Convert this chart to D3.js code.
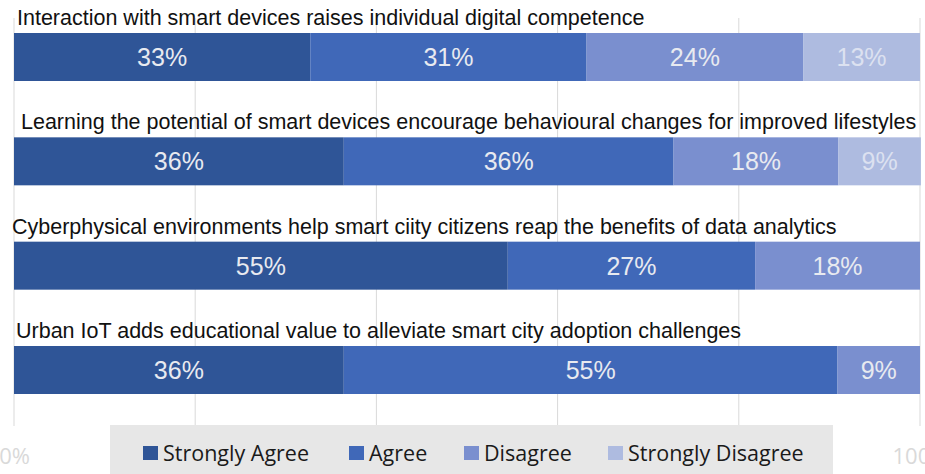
<!DOCTYPE html>
<html>
<head>
<meta charset="utf-8">
<script src="https://cdn.jsdelivr.net/npm/d3@7"></script>
<style>
  body { margin: 0; background: #fff; }
  svg { display: block; }
</style>
</head>
<body>
<div id="wrapper"></div>
<script>
const questions = [
    'Interaction with smart devices raises individual digital competence',
    'Learning the potential of smart devices encourage behavioural changes for improved lifestyles',
    'Cyberphysical environments help smart ciity citizens reap the benefits of data analytics',
    'Urban IoT adds educational value to alleviate smart city adoption challenges'
]
const responses = ['Strongly Agree', 'Agree', 'Disagree', 'Strongly Disagree']
const stronglyAgree = [32.7, 36.4, 54.5, 36.4]
const agree = [30.5, 36.4, 27.3, 54.5]
const disagree = [23.9, 18.2, 18.2, 9.1]
const stronglyDisagree = [12.9, 9.1, 0, 0]
const barLabels = [
    ['33%', '31%', '24%', '13%'],
    ['36%', '36%', '18%', '9%'],
    ['55%', '27%', '18%', ''],
    ['36%', '55%', '9%', '']
]
const gridTicks = [0, 20, 40, 60, 80, 100]
const labelTicks = [0, 100]

async function stackedBars() {
    let dimensions = {
        width: 925,
        height: 474,
        margin: { top: 33, right: 5, bottom: 80, left: 14 }
    }
    dimensions.boundedWidth = dimensions.width - dimensions.margin.left - dimensions.margin.right

    const colors = ['#2F5597', '#4068B8', '#7A8FCF', '#AEBBE0']
    const titleDx = [3, 7, -2, 2]

    const rows = questions.map((q, i) => ({
        question: q,
        values: [stronglyAgree[i], agree[i], disagree[i], stronglyDisagree[i]],
        labels: barLabels[i]
    }))

    const svg = d3.select('#wrapper').append('svg')
        .attr('width', dimensions.width)
        .attr('height', dimensions.height)

    const xScale = d3.scaleLinear()
        .domain([0, 100])
        .range([dimensions.margin.left, dimensions.margin.left + dimensions.boundedWidth])

    const yScale = d3.scaleBand()
        .domain(questions)
        .range([33, 394])
        .paddingInner(0.54)
        .paddingOuter(0)

    // gridlines
    svg.append('g')
        .selectAll('line')
        .data(gridTicks)
        .enter()
        .append('line')
        .attr('x1', d => xScale(d))
        .attr('x2', d => xScale(d))
        .attr('y1', 18)
        .attr('y2', 426)
        .attr('stroke', '#D9D9D9')
        .attr('stroke-width', 1)

    // axis labels (the inner ones sit under the legend box)
    const xAxis = d3.axisBottom(xScale)
        .tickValues(labelTicks)
        .tickFormat(d => d + '%')
        .tickSize(0)
        .tickPadding(0)
    const axisG = svg.append('g')
        .attr('transform', 'translate(0, 448)')
        .call(xAxis)
    axisG.select('.domain').remove()
    axisG.selectAll('text')
        .attr('fill', '#D9D9D9')
        .style('font-family', '"Open Sans", sans-serif')
        .style('font-size', '22px')

    // titles
    svg.append('g')
        .selectAll('text')
        .data(rows)
        .enter()
        .append('text')
        .attr('x', (d, i) => xScale(0) + titleDx[i])
        .attr('y', d => yScale(d.question) - 8)
        .attr('fill', '#111')
        .style('font-family', '"Liberation Sans", Arial, sans-serif')
        .style('font-size', '21.5px')
        .text(d => d.question)

    // bars
    const rowG = svg.append('g')
        .selectAll('g')
        .data(rows)
        .enter()
        .append('g')
        .attr('transform', d => `translate(0, ${yScale(d.question)})`)

    const segs = rowG.selectAll('g.seg')
        .data(d => {
            let acc = 0
            return d.values.map((v, j) => {
                const s = { x0: acc, x1: acc + v, label: d.labels[j], j: j }
                acc += v
                return s
            }).filter(s => s.x1 > s.x0)
        })
        .enter()
        .append('g')
        .attr('class', 'seg')

    segs.append('rect')
        .attr('x', d => xScale(d.x0))
        .attr('y', 0)
        .attr('width', d => xScale(d.x1) - xScale(d.x0))
        .attr('height', yScale.bandwidth())
        .attr('fill', d => colors[d.j])

    segs.append('text')
        .attr('x', d => (xScale(d.x0) + xScale(d.x1)) / 2)
        .attr('y', yScale.bandwidth() / 2)
        .attr('dy', '0.36em')
        .attr('text-anchor', 'middle')
        .attr('fill', d => d.j === 3 ? '#DCE1F0' : '#E8EAF0')
        .style('font-family', '"Liberation Sans", Arial, sans-serif')
        .style('font-size', '25px')
        .text(d => d.label)

    // legend
    const legendX = [143, 349, 464, 608]
    const legend = svg.append('g')
    legend.append('rect')
        .attr('x', 110)
        .attr('y', 425)
        .attr('width', 723)
        .attr('height', 49)
        .attr('fill', '#E7E7E7')
    const items = legend.selectAll('g')
        .data(responses)
        .enter()
        .append('g')
        .attr('transform', (d, i) => `translate(${legendX[i]}, 446)`)
    items.append('rect')
        .attr('width', 15)
        .attr('height', 14)
        .attr('fill', (d, i) => colors[i])
    items.append('text')
        .attr('x', 20)
        .attr('y', 7)
        .attr('dy', '0.36em')
        .attr('fill', '#1a1a1a')
        .style('font-family', '"Open Sans", sans-serif')
        .style('font-size', '21.5px')
        .text(d => d)
}

stackedBars()
</script>
</body>
</html>
